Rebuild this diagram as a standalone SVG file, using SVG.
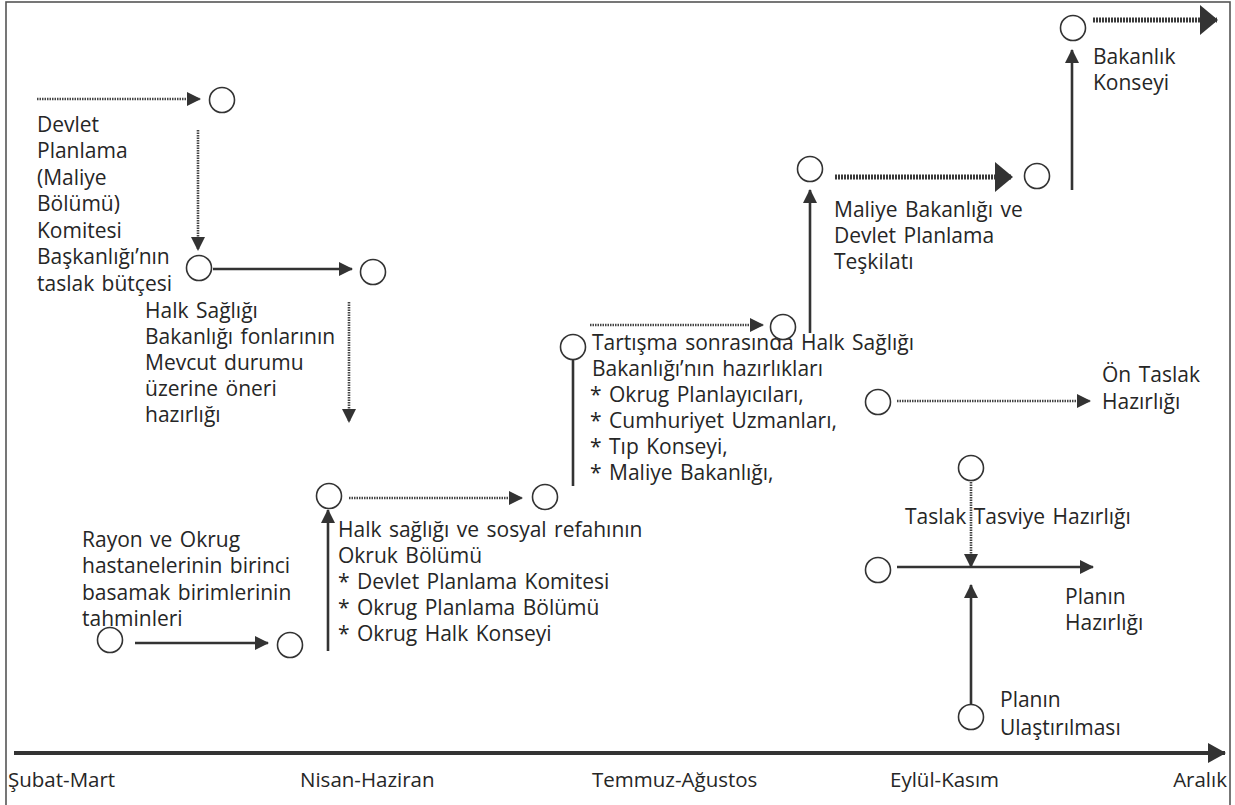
<svg xmlns="http://www.w3.org/2000/svg" width="1235" height="805" viewBox="0 0 1235 805">
<defs>
<style>
text{font-family:"Open Sans","Noto Sans","DejaVu Sans",sans-serif;font-size:21px;fill:#262626;word-spacing:2px}
.ax{font-size:20.5px;word-spacing:0}
.node{fill:#fff;stroke:#333;stroke-width:1.6}
.solid{stroke:#333;stroke-width:2.6;fill:none}
.dot{stroke:#444;stroke-width:2.6;stroke-dasharray:1.5 1;fill:none}
.heavy{stroke:#3a3a3a;stroke-width:5;stroke-dasharray:2 1;fill:none}
.axis{stroke:#333;stroke-width:4;fill:none}
</style>
<marker id="ah" markerUnits="userSpaceOnUse" viewBox="0 0 14 14" markerWidth="14" markerHeight="14" refX="13" refY="7" orient="auto"><path d="M0,0 L14,7 L0,14 z" fill="#333"/></marker>
<marker id="ahBig" markerUnits="userSpaceOnUse" viewBox="0 0 18 30" markerWidth="18" markerHeight="30" refX="17" refY="15" orient="auto"><path d="M0,0 L18,15 L0,30 z" fill="#333"/></marker>
<marker id="ahAx" markerUnits="userSpaceOnUse" viewBox="0 0 18 20" markerWidth="18" markerHeight="20" refX="17" refY="10" orient="auto"><path d="M0,0 L18,10 L0,20 z" fill="#333"/></marker>
</defs>
<rect x="0" y="0" width="1235" height="805" fill="#fff"/>
<rect x="6" y="2" width="1224" height="820" fill="none" stroke="#555" stroke-width="1.6"/>

<g id="connectors">
<line class="dot" x1="37" y1="99" x2="200" y2="99" marker-end="url(#ah)"/>
<line class="dot" x1="198" y1="130" x2="198" y2="250" marker-end="url(#ah)"/>
<line class="solid" x1="213" y1="269" x2="352" y2="269" marker-end="url(#ah)"/>
<line class="dot" x1="349" y1="302" x2="349" y2="422" marker-end="url(#ah)"/>
<line class="solid" x1="135" y1="643" x2="268" y2="643" marker-end="url(#ah)"/>
<line class="solid" x1="328" y1="651" x2="328" y2="510" marker-end="url(#ah)"/>
<line class="dot" x1="349" y1="498" x2="522" y2="498" marker-end="url(#ah)"/>
<line class="solid" x1="573" y1="359" x2="573" y2="486"/>
<line class="dot" x1="590" y1="325" x2="763" y2="325" marker-end="url(#ah)"/>
<line class="solid" x1="810" y1="333" x2="810" y2="190" marker-end="url(#ah)"/>
<line class="heavy" x1="835" y1="177" x2="1012" y2="177" marker-end="url(#ahBig)"/>
<line class="solid" x1="1072" y1="190" x2="1072" y2="50" marker-end="url(#ah)"/>
<line class="heavy" x1="1093" y1="20" x2="1217" y2="20" marker-end="url(#ahBig)"/>
<line class="dot" x1="897" y1="401" x2="1090" y2="401" marker-end="url(#ah)"/>
<line class="dot" x1="971" y1="482" x2="971" y2="567" marker-end="url(#ah)"/>
<line class="solid" x1="897" y1="567" x2="1093" y2="567" marker-end="url(#ah)"/>
<line class="solid" x1="971" y1="704" x2="971" y2="585" marker-end="url(#ah)"/>
<line class="axis" x1="14" y1="753" x2="1225" y2="753" marker-end="url(#ahAx)"/>
</g>

<g id="n-devlet">
<circle class="node" cx="222" cy="100" r="12.5"/>
<text x="37" y="132">Devlet</text>
<text x="37" y="158">Planlama</text>
<text x="37" y="185">(Maliye</text>
<text x="37" y="211">Bölümü)</text>
<text x="37" y="238">Komitesi</text>
<text x="37" y="264">Başkanlığı’nın</text>
<text x="37" y="291">taslak bütçesi</text>
</g>
<g id="n-taslak">
<circle class="node" cx="199" cy="268" r="12.5"/>
</g>
<g id="n-halksagligi">
<circle class="node" cx="373" cy="272" r="12.5"/>
<text x="145" y="318">Halk Sağlığı</text>
<text x="145" y="344">Bakanlığı fonlarının</text>
<text x="145" y="370">Mevcut durumu</text>
<text x="145" y="396">üzerine öneri</text>
<text x="145" y="422">hazırlığı</text>
</g>
<g id="n-rayon">
<circle class="node" cx="110" cy="640" r="12.5"/>
<text x="82" y="547">Rayon ve Okrug</text>
<text x="82" y="573">hastanelerinin birinci</text>
<text x="82" y="600">basamak birimlerinin</text>
<text x="82" y="626">tahminleri</text>
</g>
<g id="n-rayon2">
<circle class="node" cx="290" cy="645" r="12.5"/>
</g>
<g id="n-okruk">
<circle class="node" cx="329" cy="496" r="12.5"/>
<text x="338" y="537">Halk sağlığı ve sosyal refahının</text>
<text x="338" y="563">Okruk Bölümü</text>
<text x="338" y="589">* Devlet Planlama Komitesi</text>
<text x="338" y="615">* Okrug Planlama Bölümü</text>
<text x="338" y="641">* Okrug Halk Konseyi</text>
</g>
<g id="n-okruk2">
<circle class="node" cx="545" cy="497" r="12.5"/>
</g>
<g id="n-tartisma">
<circle class="node" cx="573" cy="347" r="12.5"/>
<text x="592" y="350">Tartışma sonrasında Halk Sağlığı</text>
<text x="592" y="376">Bakanlığı’nın hazırlıkları</text>
<text x="590" y="402">* Okrug Planlayıcıları,</text>
<text x="590" y="428">* Cumhuriyet Uzmanları,</text>
<text x="590" y="454">* Tıp Konseyi,</text>
<text x="590" y="480">* Maliye Bakanlığı,</text>
</g>
<g id="n-tartisma2">
<circle class="node" cx="783" cy="327" r="12.5"/>
</g>
<g id="n-maliye">
<circle class="node" cx="810" cy="169" r="12.5"/>
<text x="834" y="217">Maliye Bakanlığı ve</text>
<text x="834" y="243">Devlet Planlama</text>
<text x="834" y="269">Teşkilatı</text>
</g>
<g id="n-maliye2">
<circle class="node" cx="1037" cy="176" r="12.5"/>
</g>
<g id="n-bakanlik">
<circle class="node" cx="1073" cy="28" r="12.5"/>
<text x="1093" y="64">Bakanlık</text>
<text x="1093" y="90">Konseyi</text>
</g>
<g id="n-ontaslak">
<circle class="node" cx="878" cy="402" r="12.5"/>
<text x="1102" y="382">Ön Taslak</text>
<text x="1102" y="409">Hazırlığı</text>
</g>
<g id="n-tasviye">
<circle class="node" cx="971" cy="468" r="12.5"/>
<text x="905" y="524">Taslak Tasviye Hazırlığı</text>
</g>
<g id="n-plan">
<circle class="node" cx="878" cy="570" r="12.5"/>
<text x="1065" y="604">Planın</text>
<text x="1065" y="630">Hazırlığı</text>
</g>
<g id="n-ulastirma">
<circle class="node" cx="971" cy="717" r="12.5"/>
<text x="1000" y="707">Planın</text>
<text x="1000" y="735">Ulaştırılması</text>
</g>
<g id="axis-labels">
<text class="ax" x="8" y="787">Şubat-Mart</text>
<text class="ax" x="300" y="787">Nisan-Haziran</text>
<text class="ax" x="592" y="787">Temmuz-Ağustos</text>
<text class="ax" x="890" y="787">Eylül-Kasım</text>
<text class="ax" x="1227" y="787" text-anchor="end">Aralık</text>
</g>
</svg>
